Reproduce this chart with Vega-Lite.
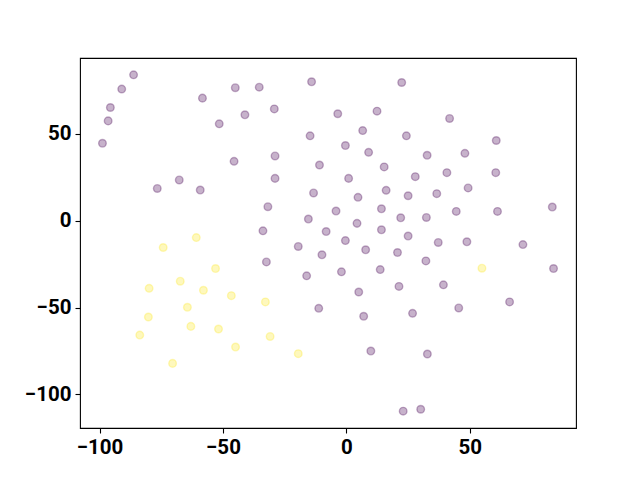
{
  "$schema": "https://vega.github.io/schema/vega-lite/v6.json",
  "width": 496,
  "height": 370,
  "autosize": "none",
  "padding": {"left": 80, "top": 58, "right": 64, "bottom": 52},
  "background": "white",
  "config": {
    "view": {"stroke": "black", "strokeWidth": 1.1},
    "axis": {
      "labelFont": "Roboto",
      "labelFontWeight": "bold",
      "labelFontSize": 20.5,
      "labelColor": "black",
      "tickColor": "black",
      "tickSize": 5,
      "tickWidth": 1.1,
      "domain": false,
      "grid": false,
      "labelPadding": 4,
      "title": null
    }
  },
  "data": {
    "values": [
      {"x": -86.2, "y": 84.0, "c": 0},
      {"x": -91.0, "y": 75.8, "c": 0},
      {"x": -95.6, "y": 65.2, "c": 0},
      {"x": -96.5, "y": 57.5, "c": 0},
      {"x": -98.8, "y": 44.6, "c": 0},
      {"x": -58.3, "y": 70.6, "c": 0},
      {"x": -45.0, "y": 76.6, "c": 0},
      {"x": -41.1, "y": 61.0, "c": 0},
      {"x": -51.5, "y": 55.8, "c": 0},
      {"x": -45.5, "y": 34.2, "c": 0},
      {"x": -76.6, "y": 18.6, "c": 0},
      {"x": -67.7, "y": 23.5, "c": 0},
      {"x": -59.2, "y": 17.7, "c": 0},
      {"x": -35.3, "y": 76.9, "c": 0},
      {"x": -14.1, "y": 80.0, "c": 0},
      {"x": 22.4, "y": 79.6, "c": 0},
      {"x": -29.2, "y": 64.4, "c": 0},
      {"x": -3.5, "y": 61.6, "c": 0},
      {"x": 12.4, "y": 63.1, "c": 0},
      {"x": 6.6, "y": 51.9, "c": 0},
      {"x": 24.3, "y": 48.9, "c": 0},
      {"x": -14.7, "y": 48.9, "c": 0},
      {"x": -0.4, "y": 43.3, "c": 0},
      {"x": 9.0, "y": 39.4, "c": 0},
      {"x": -28.9, "y": 37.3, "c": 0},
      {"x": -10.9, "y": 32.1, "c": 0},
      {"x": 15.3, "y": 31.0, "c": 0},
      {"x": -28.9, "y": 24.4, "c": 0},
      {"x": 0.9, "y": 24.4, "c": 0},
      {"x": -13.3, "y": 16.0, "c": 0},
      {"x": 16.1, "y": 17.5, "c": 0},
      {"x": 4.7, "y": 13.5, "c": 0},
      {"x": 25.0, "y": 14.4, "c": 0},
      {"x": -31.8, "y": 8.1, "c": 0},
      {"x": -4.2, "y": 5.6, "c": 0},
      {"x": 14.2, "y": 6.9, "c": 0},
      {"x": -15.4, "y": 1.0, "c": 0},
      {"x": 22.0, "y": 1.7, "c": 0},
      {"x": -33.8, "y": -5.8, "c": 0},
      {"x": -8.2, "y": -6.2, "c": 0},
      {"x": 4.3, "y": -1.5, "c": 0},
      {"x": 14.2, "y": -5.2, "c": 0},
      {"x": 25.0, "y": -8.8, "c": 0},
      {"x": -0.4, "y": -11.4, "c": 0},
      {"x": 41.8, "y": 58.9, "c": 0},
      {"x": 60.7, "y": 46.2, "c": 0},
      {"x": 32.7, "y": 37.7, "c": 0},
      {"x": 48.0, "y": 38.8, "c": 0},
      {"x": 27.9, "y": 25.4, "c": 0},
      {"x": 40.7, "y": 27.7, "c": 0},
      {"x": 60.5, "y": 27.7, "c": 0},
      {"x": 36.6, "y": 15.6, "c": 0},
      {"x": 49.3, "y": 18.9, "c": 0},
      {"x": 32.4, "y": 1.9, "c": 0},
      {"x": 44.5, "y": 5.4, "c": 0},
      {"x": 61.2, "y": 5.4, "c": 0},
      {"x": 83.4, "y": 7.9, "c": 0},
      {"x": 37.2, "y": -12.5, "c": 0},
      {"x": 48.8, "y": -12.1, "c": 0},
      {"x": 71.5, "y": -13.7, "c": 0},
      {"x": 32.2, "y": -23.1, "c": 0},
      {"x": 83.9, "y": -27.5, "c": 0},
      {"x": 39.3, "y": -36.9, "c": 0},
      {"x": 21.3, "y": -37.8, "c": 0},
      {"x": 26.8, "y": -53.3, "c": 0},
      {"x": 45.5, "y": -50.2, "c": 0},
      {"x": 66.1, "y": -46.7, "c": 0},
      {"x": 32.8, "y": -76.7, "c": 0},
      {"x": 23.0, "y": -109.6, "c": 0},
      {"x": 30.1, "y": -108.5, "c": 0},
      {"x": -19.5, "y": -14.8, "c": 0},
      {"x": 7.8, "y": -16.7, "c": 0},
      {"x": 20.7, "y": -18.3, "c": 0},
      {"x": -9.9, "y": -19.6, "c": 0},
      {"x": -32.4, "y": -23.7, "c": 0},
      {"x": -16.1, "y": -31.7, "c": 0},
      {"x": -2.0, "y": -29.4, "c": 0},
      {"x": 13.7, "y": -28.1, "c": 0},
      {"x": 5.0, "y": -41.0, "c": 0},
      {"x": -11.2, "y": -50.4, "c": 0},
      {"x": 7.0, "y": -55.0, "c": 0},
      {"x": 9.9, "y": -75.0, "c": 0},
      {"x": -60.8, "y": -9.7, "c": 1},
      {"x": -74.2, "y": -15.4, "c": 1},
      {"x": -53.0, "y": -27.5, "c": 1},
      {"x": -67.3, "y": -34.8, "c": 1},
      {"x": -79.9, "y": -38.9, "c": 1},
      {"x": -57.9, "y": -40.0, "c": 1},
      {"x": -46.6, "y": -43.1, "c": 1},
      {"x": -64.4, "y": -49.8, "c": 1},
      {"x": -80.2, "y": -55.4, "c": 1},
      {"x": -63.0, "y": -60.8, "c": 1},
      {"x": -51.8, "y": -62.3, "c": 1},
      {"x": -83.7, "y": -65.8, "c": 1},
      {"x": -44.9, "y": -72.7, "c": 1},
      {"x": -70.4, "y": -82.1, "c": 1},
      {"x": -32.8, "y": -46.7, "c": 1},
      {"x": -30.9, "y": -66.6, "c": 1},
      {"x": -19.5, "y": -76.5, "c": 1},
      {"x": 54.9, "y": -27.3, "c": 1}
    ]
  },
  "mark": {"type": "point", "filled": true, "fillOpacity": 0.3, "strokeOpacity": 0.3, "size": 58, "strokeWidth": 1.4},
  "encoding": {
    "x": {
      "field": "x", "type": "quantitative",
      "scale": {"domain": [-107.9, 93.0], "nice": false, "zero": false},
      "axis": {"values": [-100, -50, 0, 50]}
    },
    "y": {
      "field": "y", "type": "quantitative",
      "scale": {"domain": [-119.3, 93.7], "nice": false, "zero": false},
      "axis": {"values": [-100, -50, 0, 50]}
    },
    "color": {
      "field": "c", "type": "nominal",
      "scale": {"domain": [0, 1], "range": ["#440154", "#fde725"]},
      "legend": null
    },
    "stroke": {
      "field": "c", "type": "nominal",
      "scale": {"domain": [0, 1], "range": ["#440154", "#fde725"]},
      "legend": null
    }
  }
}
